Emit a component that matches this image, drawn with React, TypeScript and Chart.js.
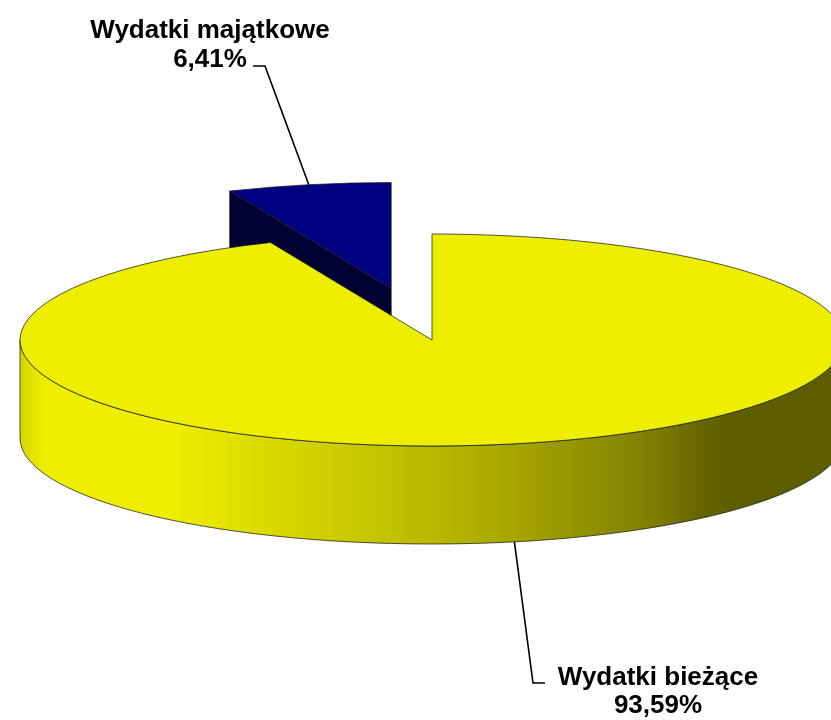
import React, { useEffect, useRef } from 'react';
import { Chart, registerables } from 'chart.js';
Chart.register(...registerables);

// ---- data ----
const categories = ['Wydatki majątkowe', 'Wydatki bieżące'];
const shares = [6.41, 93.59];
const shareLabels = ['6,41%', '93,59%'];

// ---- style ----
const TOP_COLORS = ['#000080', '#eeee00'];
const SIDE_COLORS = ['#000033', '#8a8a00'];
const EXPLODE = [204, 0];
const RADIUS = 412;
const TILT = 106 / 412;
const DEPTH = 98;
const CENTER_Y = 340;
const FONT = 'bold 26px "Liberation Sans", Arial, sans-serif';
const LABEL_POS = [
  { cx: 210, y1: 38, y2: 67, elbow: [265, 66], end: [253, 66] },
  { cx: 658, y1: 685, y2: 713, elbow: [533, 683], end: [545, 683] },
];

const total = shares.reduce((a, b) => a + b, 0);

function geom(el: any, i: number) {
  const p = el.getProps(['x', 'y', 'startAngle', 'endAngle', 'outerRadius'], true);
  const m = (p.startAngle + p.endAngle) / 2;
  const dx = Math.cos(m) * EXPLODE[i];
  const dyDisk = Math.sin(m) * EXPLODE[i];
  const cx = p.x + dx;
  const cy = CENTER_Y + dyDisk * TILT;
  const R = p.outerRadius;
  const ry = R * TILT;
  const pt = (a: number, down = 0): [number, number] => [cx + Math.cos(a) * R, cy + Math.sin(a) * ry + down];
  return { ...p, m, dx, dyDisk, cx, cy, R, ry, pt };
}

function wallGradient(ctx: CanvasRenderingContext2D, g: any) {
  const grad = ctx.createLinearGradient(g.cx - g.R, 0, g.cx + g.R, 0);
  grad.addColorStop(0, '#d6d600');
  grad.addColorStop(0.03, '#eeee00');
  grad.addColorStop(0.18, '#eeee00');
  grad.addColorStop(0.28, '#dddd00');
  grad.addColorStop(0.46, '#c0c000');
  grad.addColorStop(0.58, '#aaaa00');
  grad.addColorStop(0.655, '#999900');
  grad.addColorStop(0.765, '#7f7f00');
  grad.addColorStop(0.825, '#666600');
  grad.addColorStop(0.86, '#5e5e00');
  grad.addColorStop(1, '#5e5e00');
  return grad;
}

const EDGE = 'rgba(30,30,30,0.75)';

const pie3d = {
  id: 'pie3d',
  beforeDatasetsDraw(chart: any) {
    const ctx: CanvasRenderingContext2D = chart.ctx;
    const arcs = chart.getDatasetMeta(0).data;
    const order = arcs.map((_: any, i: number) => i).sort((a: number, b: number) => {
      const ga = geom(arcs[a], a), gb = geom(arcs[b], b);
      return Math.sin(ga.m) - Math.sin(gb.m);
    });
    ctx.save();
    ctx.lineWidth = 1;
    ctx.strokeStyle = EDGE;
    ctx.lineJoin = 'round';
    for (const i of order) {
      const el = arcs[i];
      const g = geom(el, i);
      const s = g.startAngle, e = g.endAngle;
      // radial side faces
      const faces: number[] = [];
      if (Math.cos(s) < -1e-6) faces.push(s);
      if (Math.cos(e) > 1e-6) faces.push(e);
      for (const a of faces) {
        const p1 = g.pt(a);
        ctx.beginPath();
        ctx.moveTo(g.cx, g.cy);
        ctx.lineTo(p1[0], p1[1]);
        ctx.lineTo(p1[0], p1[1] + DEPTH);
        ctx.lineTo(g.cx, g.cy + DEPTH);
        ctx.closePath();
        ctx.fillStyle = SIDE_COLORS[i];
        ctx.fill();
        ctx.stroke();
      }
      // outer wall (front half only)
      for (let n = -2; n <= 2; n++) {
        const lo = Math.max(s, n * 2 * Math.PI);
        const hi = Math.min(e, n * 2 * Math.PI + Math.PI);
        if (hi <= lo) continue;
        ctx.beginPath();
        ctx.ellipse(g.cx, g.cy, g.R, g.ry, 0, lo, hi, false);
        const ph = g.pt(hi, DEPTH);
        ctx.lineTo(ph[0], ph[1]);
        ctx.ellipse(g.cx, g.cy + DEPTH, g.R, g.ry, 0, hi, lo, true);
        ctx.closePath();
        ctx.fillStyle = i === 1 ? wallGradient(ctx, g) : SIDE_COLORS[i];
        ctx.fill();
        ctx.stroke();
      }
      // top face drawn by the library's arc element, squashed into perspective
      ctx.save();
      ctx.translate(g.dx, g.cy);
      ctx.scale(1, TILT);
      ctx.translate(0, -g.y);
      el.draw(ctx);
      ctx.restore();
      // top outline
      const ps = g.pt(s);
      ctx.beginPath();
      ctx.moveTo(g.cx, g.cy);
      ctx.lineTo(ps[0], ps[1]);
      ctx.ellipse(g.cx, g.cy, g.R, g.ry, 0, s, e, false);
      ctx.closePath();
      ctx.stroke();
    }
    ctx.restore();
    return false;
  },
  afterDraw(chart: any) {
    const ctx: CanvasRenderingContext2D = chart.ctx;
    const arcs = chart.getDatasetMeta(0).data;
    ctx.save();
    arcs.forEach((el: any, i: number) => {
      const g = geom(el, i);
      const front = Math.sin(g.m) > 0;
      const anchor = g.pt(g.m, front ? DEPTH : 0);
      const L = LABEL_POS[i];
      ctx.beginPath();
      ctx.moveTo(anchor[0], anchor[1]);
      ctx.lineTo(L.elbow[0], L.elbow[1]);
      ctx.lineTo(L.end[0], L.end[1]);
      ctx.strokeStyle = '#000';
      ctx.lineWidth = 1.6;
      ctx.stroke();
      ctx.fillStyle = '#000';
      ctx.font = FONT;
      ctx.textAlign = 'center';
      ctx.textBaseline = 'alphabetic';
      ctx.fillText(categories[i], L.cx, L.y1);
      ctx.fillText(shareLabels[i], L.cx, L.y2);
    });
    ctx.restore();
  },
};

export default function App() {
  const ref = useRef<HTMLCanvasElement | null>(null);
  useEffect(() => {
    document.body.style.margin = '0';
    const canvas = ref.current!;
    const chart = new Chart(canvas, {
      type: 'pie',
      data: {
        labels: categories,
        datasets: [
          {
            data: shares,
            backgroundColor: TOP_COLORS,
            borderWidth: 0,
            radius: RADIUS,
          } as any,
        ],
      },
      options: {
        animation: false,
        responsive: false,
        devicePixelRatio: 1,
        radius: RADIUS,
        rotation: -(shares[0] / total) * 360,
        layout: { padding: { left: 33, right: 0, top: 0, bottom: 0 } },
        events: [],
        plugins: { legend: { display: false }, tooltip: { enabled: false } },
      } as any,
      plugins: [pie3d as any],
    });
    return () => chart.destroy();
  }, []);
  return (
    <div style={{ width: 831, height: 720, overflow: 'hidden' }}>
      <canvas ref={ref} width={831} height={720} style={{ display: 'block', width: 831, height: 720 }} />
    </div>
  );
}
